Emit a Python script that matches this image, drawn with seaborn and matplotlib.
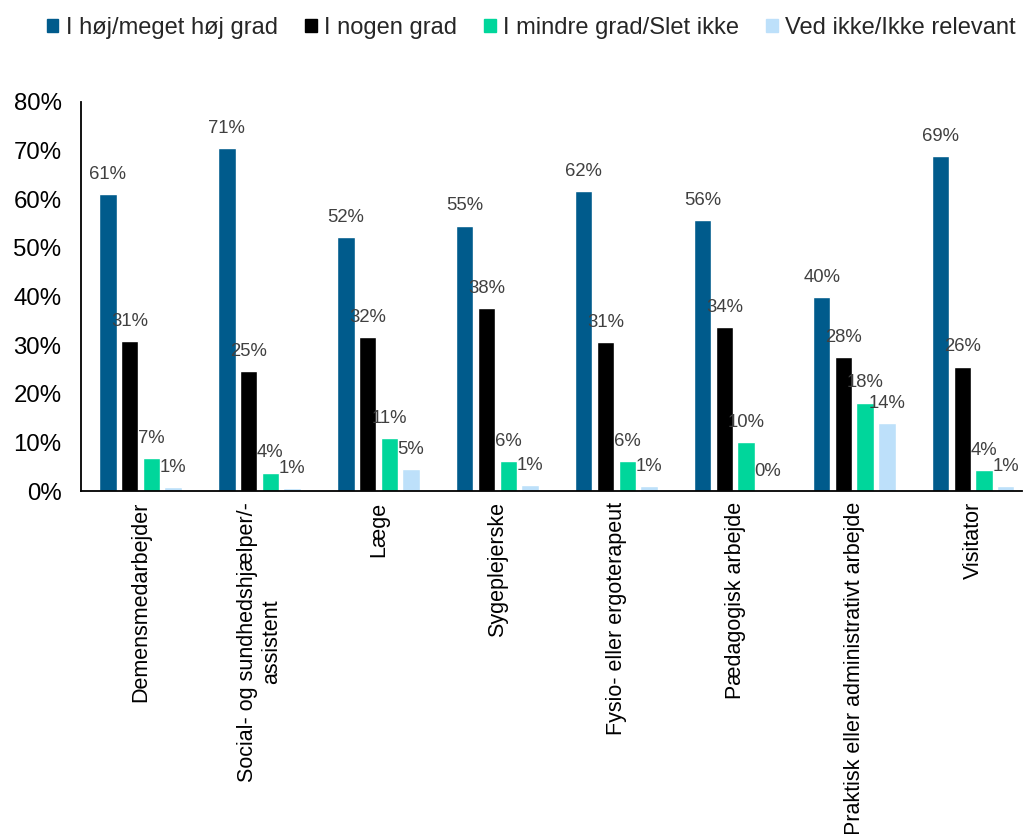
import matplotlib
matplotlib.use('Agg')
import matplotlib.pyplot as plt
import pandas as pd
import seaborn as sns

# Categories (x axis) and response groups (hue)
categories = ['Demensmedarbejder', 'Social- og sundhedshjælper/-\nassistent', 'Læge',
              'Sygeplejerske', 'Fysio- eller ergoterapeut', 'Pædagogisk arbejde',
              'Praktisk eller administrativt arbejde', 'Visitator']
groups = ['I høj/meget høj grad', 'I nogen grad', 'I mindre grad/Slet ikke', 'Ved ikke/Ikke relevant']

# Values in percent
hoej = [61.0, 70.6, 52.2, 54.6, 61.7, 55.7, 39.8, 68.9]
nogen = [30.9, 24.6, 31.6, 37.6, 30.6, 33.8, 27.6, 25.6]
mindre = [6.8, 3.8, 10.9, 6.2, 6.2, 10.0, 18.2, 4.3]
ved_ikke = [0.8, 0.6, 4.6, 1.2, 1.0, 0.0, 14.0, 1.0]

colors = ['#005B8C', '#000000', '#00D69B', '#BDE0FA']

# Build long-form table for seaborn
rows = []
for grp, vals in zip(groups, [hoej, nogen, mindre, ved_ikke]):
    for cat, v in zip(categories, vals):
        rows.append({'kategori': cat, 'svar': grp, 'pct': v})
df = pd.DataFrame(rows)

sns.set_style('white')
plt.rcParams['font.family'] = ['Liberation Sans', 'DejaVu Sans']

fig = plt.figure(figsize=(10.24, 8.34), dpi=100)
ax = fig.add_axes([81 / 1024, 1 - 491 / 834, 941 / 1024, (491 - 102) / 834])

sns.barplot(data=df, x='kategori', y='pct', hue='svar', order=categories, hue_order=groups,
            palette=colors, width=0.73, gap=0.2, ax=ax, legend=False, errorbar=None,
            saturation=1)

# Data labels above every bar
for cont in ax.containers:
    ax.bar_label(cont, labels=[f'{b.get_height():.0f}%' for b in cont],
                 padding=8, fontsize=13.3, color='#404040')

ax.set_ylim(0, 80)
ax.set_xlim(-0.5, 7.41)
ax.set_yticks(range(0, 81, 10))
ax.set_yticklabels([f'{t}%' for t in range(0, 81, 10)])
ax.set_xlabel('')
ax.set_ylabel('')
ax.tick_params(axis='y', length=0, pad=14, labelsize=17.3, labelcolor='black')
ax.tick_params(axis='x', length=0, pad=8, labelsize=15.5, labelcolor='black')
for lab in ax.get_xticklabels():
    lab.set_rotation(90)
    lab.set_multialignment('center')

for s in ['top', 'right']:
    ax.spines[s].set_visible(False)
for s in ['left', 'bottom']:
    ax.spines[s].set_color('black')
    ax.spines[s].set_linewidth(1.3)

# Legend across the top
handles = [plt.Rectangle((0, 0), 1, 1, color=c) for c in colors]
fig.legend(handles, groups, loc='center', bbox_to_anchor=(531 / 1024, 1 - 28 / 834),
           ncol=4, frameon=False, fontsize=17, handlelength=0.5, handleheight=0.5,
           handletextpad=0.3, columnspacing=1.15, borderaxespad=0, borderpad=0)

fig.savefig('out.png', dpi=100)
